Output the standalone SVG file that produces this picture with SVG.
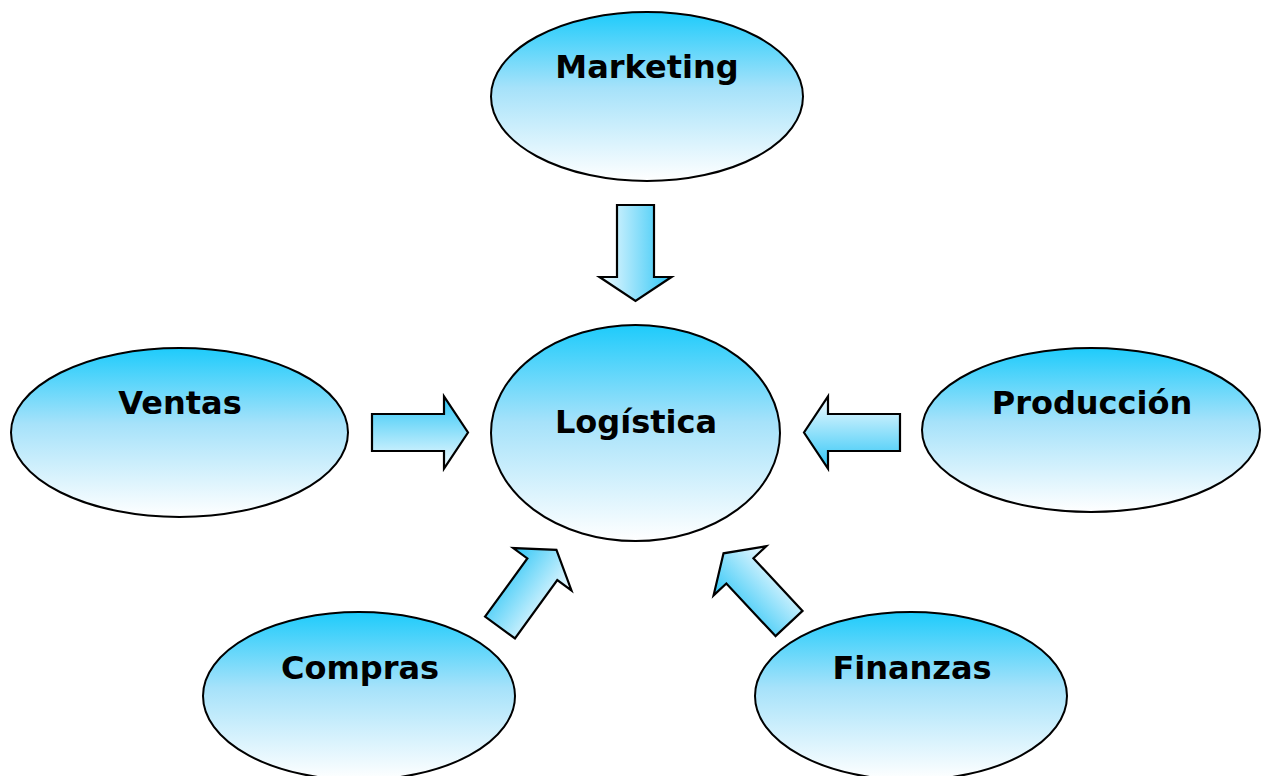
<svg xmlns="http://www.w3.org/2000/svg" width="1262" height="776" viewBox="0 0 1262 776">
  <defs>
    <linearGradient id="nodeFill" x1="0" y1="0" x2="0" y2="1">
      <stop offset="0" stop-color="#1ecbfb"/>
      <stop offset="0.45" stop-color="#a6e2fa"/>
      <stop offset="1" stop-color="#ffffff"/>
    </linearGradient>
    <linearGradient id="arrowFill" x1="0" y1="0" x2="0" y2="1">
      <stop offset="0" stop-color="#2ec6f6"/>
      <stop offset="1" stop-color="#f4fbff"/>
    </linearGradient>
    <!-- block arrow pointing right, base at origin -->
    <path id="blockArrow" d="M0,-18.5 H72 V-36 L96,0 L72,36 V18.5 H0 Z"/>
  </defs>
  <style>
    .node ellipse { fill: url(#nodeFill); stroke: #000; stroke-width: 2; }
    .node text { font-family: "DejaVu Sans", Verdana, sans-serif; font-weight: bold; font-size: 32px; fill: #000; text-anchor: middle; }
    .arrows use { fill: url(#arrowFill); stroke: #000; stroke-width: 2.2; stroke-linejoin: miter; }
  </style>

  <rect width="1262" height="776" fill="#ffffff"/>

  <g id="connectors" class="arrows">
    <use href="#blockArrow" transform="translate(635.5,205) rotate(90)"/>
    <use href="#blockArrow" transform="translate(372,432.5)"/>
    <use href="#blockArrow" transform="translate(900,432.5) rotate(180)"/>
    <use href="#blockArrow" transform="translate(500,627.5) rotate(-54)"/>
    <use href="#blockArrow" transform="translate(789,623.5) rotate(-133)"/>
  </g>

  <g id="node-marketing" class="node">
    <ellipse cx="647" cy="96.5" rx="156" ry="84.5"/>
    <text x="647" y="78">Marketing</text>
  </g>
  <g id="node-ventas" class="node">
    <ellipse cx="179.5" cy="432.5" rx="168.5" ry="84.5"/>
    <text x="180" y="414">Ventas</text>
  </g>
  <g id="node-logistica" class="node">
    <ellipse cx="635.5" cy="433" rx="144.5" ry="108"/>
    <text x="636" y="433">Logística</text>
  </g>
  <g id="node-produccion" class="node">
    <ellipse cx="1091" cy="430" rx="169" ry="82"/>
    <text x="1092" y="414">Producción</text>
  </g>
  <g id="node-compras" class="node">
    <ellipse cx="359" cy="696" rx="156" ry="84"/>
    <text x="360" y="679">Compras</text>
  </g>
  <g id="node-finanzas" class="node">
    <ellipse cx="911" cy="696" rx="156" ry="84"/>
    <text x="912" y="679">Finanzas</text>
  </g>
</svg>
